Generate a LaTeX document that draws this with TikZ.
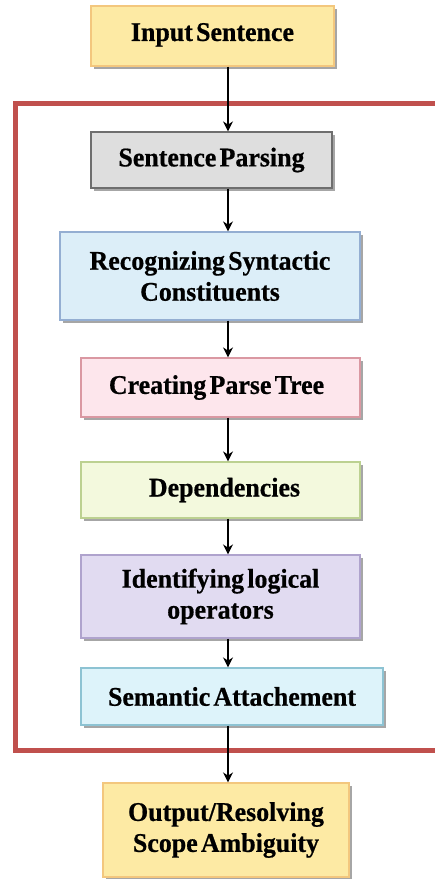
\documentclass[tikz,border=0pt]{standalone}
\usepackage{fontspec}
\setmainfont{Liberation Serif}[WordSpace={0.5,0.3,0.3},FakeStretch=0.96,FakeBold=0.6]
\usetikzlibrary{shadows,arrows.meta}
\definecolor{frameRed}{HTML}{C0504D}
\definecolor{yelF}{HTML}{FDEAA4}\definecolor{yelD}{HTML}{F3C77E}
\definecolor{grayF}{HTML}{DEDEDE}\definecolor{grayD}{HTML}{6E6E6E}
\definecolor{blueF}{HTML}{DCEEF8}\definecolor{blueD}{HTML}{94AED2}
\definecolor{pinkF}{HTML}{FDE6EC}\definecolor{pinkD}{HTML}{DA98A2}
\definecolor{greenF}{HTML}{F3F9DD}\definecolor{greenD}{HTML}{BCD191}
\definecolor{lavF}{HTML}{E1DBF1}\definecolor{lavD}{HTML}{AFA3CD}
\definecolor{cyanF}{HTML}{DDF3FA}\definecolor{cyanD}{HTML}{8DC3D3}
\begin{document}
\begin{tikzpicture}[x=1pt,y=-1pt,
  box/.style={draw, line width=1.2pt, inner sep=0pt, align=center,
    font=\fontsize{27}{31}\selectfont\bfseries,
    drop shadow={shadow xshift=3pt, shadow yshift=-3pt, fill=black, opacity=0.35}},
  arr/.style={line width=2pt, -{Stealth[length=10pt,width=10pt]}}]
\useasboundingbox[fill=white] (0,0) rectangle (435,879);
\begin{scope}
\clip (0,0) rectangle (435,879);
\draw[frameRed, line width=5pt] (15,103) rectangle (450,750);
\end{scope}
\coordinate (ax) at (228,0);
\node[box, fill=yelF, draw=yelD, minimum width=243pt, minimum height=60pt] (in) at (212.5,36) {Input Sentence\rule[-8pt]{0pt}{0pt}};
\node[box, fill=grayF, draw=grayD, minimum width=241pt, minimum height=56pt] (sp) at (211.5,160) {Sentence Parsing};
\node[box, fill=blueF, draw=blueD, minimum width=300pt, minimum height=88pt] (rc) at (210,276) {Recognizing Syntactic\\Constituents};
\node[box, fill=pinkF, draw=pinkD, minimum width=279pt, minimum height=59pt] (ct) at (220.5,387.5) {Creating Parse Tree\hspace{8pt}};
\node[box, fill=greenF, draw=greenD, minimum width=279pt, minimum height=56pt] (dp) at (220.5,490) {\hspace{8pt}Dependencies};
\node[box, fill=lavF, draw=lavD, minimum width=279pt, minimum height=83pt] (id) at (220.5,596.5) {Identifying logical\\operators};
\node[box, fill=cyanF, draw=cyanD, minimum width=302pt, minimum height=57pt] (sa) at (232,696.5) {Semantic Attachement};
\node[box, fill=yelF, draw=yelD, minimum width=246pt, minimum height=94pt] (out) at (226,830) {Output/Resolving\\Scope Ambiguity};
\draw[arr] (in.south -| ax) -- (sp.north -| ax);
\draw[arr] (sp.south -| ax) -- (rc.north -| ax);
\draw[arr] (rc.south -| ax) -- (ct.north -| ax);
\draw[arr] (ct.south -| ax) -- (dp.north -| ax);
\draw[arr] (dp.south -| ax) -- (id.north -| ax);
\draw[arr] (id.south -| ax) -- (sa.north -| ax);
\draw[arr] (sa.south -| ax) -- (out.north -| ax);
\end{tikzpicture}
\end{document}
